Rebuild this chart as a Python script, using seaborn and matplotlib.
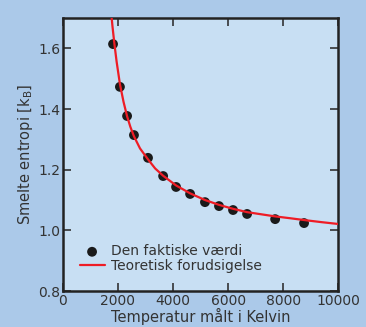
import matplotlib
matplotlib.use("Agg")
import matplotlib.pyplot as plt
import seaborn as sns

temp_punkter = [1820, 2070, 2330, 2580, 3090, 3640, 4110, 4620, 5160, 5670, 6180, 6690, 7710, 8760]
entropi_punkter = [1.614, 1.473, 1.377, 1.314, 1.239, 1.179, 1.143, 1.120, 1.093, 1.080, 1.067, 1.054, 1.037, 1.024]

# theoretical curve
temp_kurve = [1770, 1800, 1870, 1950, 2070, 2200, 2330, 2450, 2580, 2800, 3090, 3350, 3640, 4110,
              4620, 5160, 5670, 6180, 6690, 7200, 7710, 8250, 8760, 9400, 10000]
entropi_kurve = [1.700, 1.672, 1.614, 1.556, 1.482, 1.424, 1.376, 1.341, 1.310, 1.270, 1.234, 1.204, 1.180, 1.148,
                 1.122, 1.100, 1.084, 1.071, 1.060, 1.053, 1.046, 1.040, 1.034, 1.027, 1.021]

sns.set_style("ticks")
plt.rcParams['font.family'] = ['DejaVu Sans']

fig = plt.figure(figsize=(3.66, 3.27), dpi=100)
fig.patch.set_facecolor('#abc9e9')
ax = fig.add_axes([0.172, 0.110, 0.752, 0.835])
ax.set_facecolor('#c8dff3')

sns.scatterplot(x=temp_punkter, y=entropi_punkter, ax=ax, color='#1a1a1a', s=50,
                edgecolor='none', label='Den faktiske værdi', zorder=2)
sns.lineplot(x=temp_kurve, y=entropi_kurve, ax=ax, color='#ee1c25', linewidth=1.6,
             label='Teoretisk forudsigelse', zorder=3)

ax.set_xlim(0, 10000)
ax.set_ylim(0.8, 1.7)
ax.set_xticks([0, 2000, 4000, 6000, 8000, 10000])
ax.set_yticks([0.8, 1.0, 1.2, 1.4, 1.6])
ax.set_yticklabels(['0.8', '1.0', '1.2', '1.4', '1.6'])
ax.tick_params(direction='in', length=6, width=1.2, color='#333333', labelcolor='#333333',
               labelsize=10, top=True, right=True, pad=2)
for s in ax.spines.values():
    s.set_linewidth(1.8)
    s.set_color('#222222')

ax.set_xlabel('Temperatur målt i Kelvin', fontsize=10.5, color='#333333', labelpad=0)
ax.set_ylabel(r'Smelte entropi [k$_\mathrm{B}$]', fontsize=10.5, color='#333333', labelpad=2)

handles, labels = ax.get_legend_handles_labels()
order = [labels.index('Den faktiske værdi'), labels.index('Teoretisk forudsigelse')]
leg = ax.legend([handles[i] for i in order], [labels[i] for i in order], loc='lower left',
                bbox_to_anchor=(0.025, 0.03), frameon=False, fontsize=10, handlelength=1.8,
                handletextpad=0.5, labelspacing=0.05, borderaxespad=0.3)
for t in leg.get_texts():
    t.set_color('#333333')

fig.savefig('out.png', dpi=100, facecolor=fig.get_facecolor())
